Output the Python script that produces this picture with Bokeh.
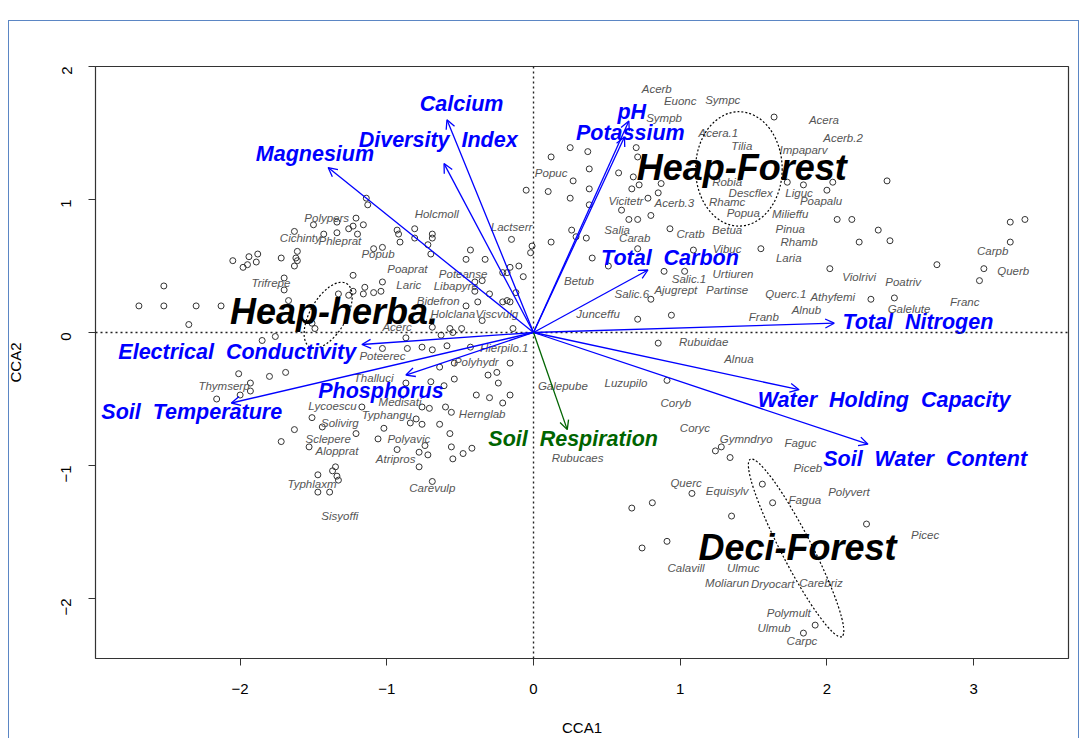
import math
from bokeh.plotting import figure
from bokeh.models import Range1d, Span, Arrow, OpenHead, ColumnDataSource, FixedTicker, InlineStyleSheet
from bokeh.core.properties import value
from bokeh.embed import file_html
from bokeh.resources import INLINE

# ---- site scores (CCA1, CCA2) ----
site_x = [-1.50, -1.34, -1.26, -1.21, -1.63, -1.43, -1.34, -1.94, -1.88, -1.72, -1.61, -1.62, -2.05,
          -1.14, -1.13, -1.16, -1.23, -1.20, -0.93, -0.92, -0.91, -0.81, -0.81, -0.69, -0.69, -0.72,
          -0.70, -1.09, -1.03, -0.43, -0.46, -0.33, -0.15, -0.05, -0.01, -0.02,
          0.25, 0.12, 0.37, 0.27, 0.10, 0.25, 0.38, 0.38, 0.38, 0.26, 0.29, 0.36, 0.12,
          1.64, 0.70, 0.71, 0.58, 0.68, 0.72, 0.67, 0.87, 0.85, 0.78, 0.60, 0.65, 0.71, 0.80,
          0.93, 0.71, 1.09, 1.55, 0.40, 1.73, 1.84, 2.04, 2.00, 2.41, 2.07, 2.17, 2.35, 2.22,
          2.43, 3.25, 3.35, 3.25,
          -1.98, -1.89, -1.95, -1.61, -1.63, -1.70, -1.70, -1.67, -2.52, -2.69, -2.52, -2.30,
          -2.13, -2.35, -1.85, -1.76, -1.51, -1.49, -1.33, -1.26, -1.23, -1.23,
          -2.01, -1.80, -1.69, -1.93, -2.00, -1.93, -2.16, -1.51, -1.44, -1.63, -1.72, -1.53,
          -1.35, -1.37, -1.34, -1.33, -1.47, -1.47, -1.39,
          -0.21, -0.18, -0.16, -0.10, -0.07, -0.35, -0.40, -0.40, -0.30, -0.12, -0.21, -0.18,
          -0.16, -0.38, -0.46, -0.35, -0.14, -0.49, -0.57, -0.55, -0.63, -0.69, -0.87, -1.03,
          -0.86, -0.76, -0.69, -0.59, -0.43, -0.64, -0.54, -0.16, -0.25, -0.31, -0.54, -0.70,
          -0.87, -0.24, -0.61, -0.39, -0.30, -0.16, -0.21, -0.76, -0.71, -0.60, -0.56, -0.84,
          -0.80, -0.76, -0.64, -1.02, -1.21, -1.06, -0.57, -0.74, -0.93,
          -1.03, -1.15, -1.16, -1.09, -1.04, -1.17,
          -0.78, -0.72, -0.78, -0.56, -0.48, -0.42, -0.55, -0.69,
          0.51, 0.89, 1.03, 0.80, 0.71, 0.94, 0.85, 0.91,
          2.02, 2.75, 3.07, 3.04, 2.30, 2.46,
          1.24, 1.28, 1.34, 1.56, 1.63, 1.35, 1.08, 0.81, 0.67, 0.91, 0.74, 2.27, 1.92, 1.84]
site_y = [0.81, 0.83, 0.78, 0.86, 0.76, 0.74, 0.75, 0.57, 0.59, 0.56, 0.61, 0.56, 0.54,
          1.01, 0.96, 0.81, 0.80, 0.74, 0.77, 0.74, 0.68, 0.78, 0.71, 0.74, 0.71, 0.66,
          0.59, 0.63, 0.64, 0.62, 0.55, 0.55, 0.70, 1.07, 0.65, 0.60,
          1.39, 1.32, 1.36, 1.14, 1.06, 1.01, 1.23, 1.08, 0.96, 0.77, 0.72, 0.71, 0.68,
          1.62, 1.39, 1.32, 1.20, 1.17, 1.11, 1.08, 1.12, 1.05, 1.01, 0.92, 0.85, 0.85, 0.88,
          0.78, 0.63, 0.62, 0.63, 0.56, 1.13, 1.11, 1.13, 1.07, 1.14, 0.85, 0.85, 0.77, 0.68,
          0.69, 0.83, 0.85, 0.68,
          0.49, 0.53, 0.51, 0.54, 0.50, 0.41, 0.32, 0.24, 0.35, 0.20, 0.20, 0.20,
          0.20, 0.06, -0.06, -0.03, 0.07, 0.03, 0.29, 0.28, 0.31, 0.43,
          -0.31, -0.33, -0.30, -0.38, -0.47, -0.44, -0.50, -0.64, -0.71, -0.73, -0.82, -0.86,
          -1.01, -1.04, -1.08, -1.11, -1.07, -1.20, -1.20,
          0.45, 0.45, 0.49, 0.50, 0.42, 0.39, 0.38, 0.31, 0.29, 0.30, 0.23, 0.24,
          0.23, 0.23, 0.20, 0.09, 0.03, 0.03, 0.03, 0.00, -0.02, 0.04, -0.04, -0.12,
          -0.12, -0.11, -0.13, -0.10, -0.11, -0.26, -0.23, -0.23, -0.30, -0.32, -0.35, -0.37,
          -0.38, -0.38, -0.40, -0.47, -0.49, -0.47, -0.53, -0.56, -0.57, -0.56, -0.60, -0.68,
          -0.65, -0.69, -0.69, -0.72, -0.76, -0.80, -0.76, -0.85, -0.88,
          0.38, 0.34, 0.29, 0.30, 0.31, -0.56,
          -0.90, -0.92, -1.01, -0.86, -0.91, -0.87, -0.95, -1.12,
          0.50, 0.46, 0.46, 0.25, 0.10, 0.13, -0.08, -0.36,
          0.48, 0.51, 0.48, 0.39, 0.25, 0.26,
          -0.89, -0.86, -0.94, -1.14, -1.28, -1.38, -1.21, -1.28, -1.32, -1.57, -1.62, -1.44, -2.20, -2.26]

# ---- species scores ----
species = ["Acerb", "Euonc", "Sympc", "Sympb", "Acera.1", "Tilia", "Impaparv", "Acera", "Acerb.2",
           "Robia", "Descflex", "Liguc", "Poapalu", "Rhamc", "Popua", "Milieffu", "Vicitetr",
           "Acerb.3", "Salia", "Carab", "Cratb", "Betua", "Pinua", "Vibuc", "Rhamb", "Laria",
           "Carpb", "Querb", "Popuc", "Urtiuren", "Salic.1", "Betub", "Ajugrept", "Partinse",
           "Salic.6", "Querc.1", "Athyfemi", "Violrivi", "Poatriv", "Galelute", "Franc", "Alnub",
           "Junceffu", "Franb", "Rubuidae", "Alnua", "Luzupilo", "Coryb", "Coryc", "Gymndryo",
           "Faguc", "Piceb", "Polyvert", "Fagua", "Querc", "Equisylv", "Picec", "Calavill",
           "Ulmuc", "Moliarun", "Dryocart", "Carebriz", "Polymult", "Ulmub", "Carpc", "Galepube",
           "Rubucaes", "Polypers", "Cichinty", "Phleprat", "Popub", "Holcmoll", "Lactserr",
           "Trifrepe", "Poaprat", "Poteanse", "Laric", "Libapyre", "Bidefron", "Holclana",
           "Viscvulg", "Acerc", "Poteerec", "Hierpilo.1", "Polyhydr", "Thalluci", "Thymserp",
           "Medisati", "Lycoescu", "Typhangu", "Hernglab", "Solivirg", "Sclepere", "Polyavic",
           "Alopprat", "Atripros", "Typhlaxm", "Carevulp", "Sisyoffi"]
species_x = [0.84, 1.00, 1.29, 0.89, 1.26, 1.42, 1.84, 1.98, 2.11,
             1.32, 1.48, 1.81, 1.96, 1.32, 1.43, 1.75, 0.63,
             0.96, 0.57, 0.69, 1.07, 1.32, 1.75, 1.32, 1.81, 1.74,
             3.13, 3.27, 0.12, 1.36, 1.06, 0.31, 0.97, 1.32,
             0.67, 1.72, 2.04, 2.22, 2.52, 2.56, 2.94, 1.86,
             0.44, 1.57, 1.16, 1.40, 0.63, 0.97, 1.10, 1.45,
             1.82, 1.87, 2.15, 1.85, 1.04, 1.32, 2.67, 1.04,
             1.43, 1.32, 1.63, 1.96, 1.74, 1.64, 1.83, 0.20,
             0.30, -1.41, -1.59, -1.32, -1.06, -0.66, -0.15,
             -1.79, -0.86, -0.48, -0.85, -0.53, -0.65, -0.55,
             -0.25, -0.93, -1.03, -0.20, -0.39, -1.09, -2.11,
             -0.91, -1.37, -1.00, -0.35, -1.32, -1.40, -0.85,
             -1.34, -0.94, -1.51, -0.69, -1.32]
species_y = [1.83, 1.74, 1.75, 1.61, 1.50, 1.40, 1.37, 1.60, 1.46,
             1.13, 1.05, 1.05, 0.99, 0.98, 0.90, 0.89, 0.99,
             0.97, 0.77, 0.71, 0.74, 0.77, 0.78, 0.63, 0.68, 0.56,
             0.61, 0.46, 1.20, 0.44, 0.40, 0.39, 0.32, 0.32,
             0.29, 0.29, 0.27, 0.42, 0.38, 0.18, 0.23, 0.17,
             0.14, 0.12, -0.07, -0.20, -0.38, -0.53, -0.72, -0.80,
             -0.83, -1.02, -1.20, -1.26, -1.13, -1.19, -1.52, -1.77,
             -1.77, -1.88, -1.89, -1.88, -2.11, -2.22, -2.32, -0.40,
             -0.94, 0.86, 0.71, 0.69, 0.59, 0.89, 0.79,
             0.37, 0.48, 0.44, 0.36, 0.35, 0.24, 0.14,
             0.14, 0.04, -0.18, -0.12, -0.22, -0.34, -0.40,
             -0.52, -0.55, -0.62, -0.61, -0.68, -0.80, -0.80,
             -0.89, -0.95, -1.14, -1.17, -1.38]

# ---- environmental vectors (biplot scores) ----
env_names = ["Calcium", "Diversity Index", "Magnesium", "pH", "Potassium", "Total Carbon",
             "Total Nitrogen", "Water Holding Capacity", "Soil Water Content",
             "Soil Respiration", "Phosphorus", "Electrical Conductivity", "Soil Temperature"]
env_x = [-0.59, -0.61, -1.40, 0.65, 0.62, 0.78, 2.05, 1.81, 2.28, 0.23, -0.87, -1.17, -2.06]
env_y = [1.60, 1.27, 1.24, 1.59, 1.47, 0.47, 0.07, -0.43, -0.84, -0.73, -0.32, -0.09, -0.53]
env_label_x = [-0.49, -0.65, -1.49, 0.67, 0.66, 0.93, 2.62, 2.39, 2.67, 0.27, -1.04, -2.02, -2.33]
env_label_y = [1.72, 1.45, 1.34, 1.66, 1.50, 0.56, 0.08, -0.51, -0.95, -0.80, -0.44, -0.15, -0.60]

# ---- habitat groups ----
group_names = ["Heap-Forest", "Heap-herba.", "Deci-Forest"]
group_label_x = [1.42, -1.36, 1.80]
group_label_y = [1.24, 0.16, -1.62]
ellipse_x = [1.40, -1.40, 1.79]
ellipse_y = [1.23, 0.13, -1.62]
ellipse_w = [0.59, 0.50, 1.36]
ellipse_h = [0.86, 0.27, 0.23]
ellipse_angle_deg = [0, 60, -62.7]

FONT = "Liberation Sans"
BLUE = "#0000FF"
GREEN = "#006400"

# thin page frame drawn around the chart area
frame_css = InlineStyleSheet(css="""
:host::after {
  content: "";
  position: absolute;
  left: 8px; top: 20px; width: 1071px; height: 718px;
  border: 1.5px solid #5b86c4; border-bottom: none;
  box-sizing: border-box;
  pointer-events: none;
}
""")

p = figure(width=1086, height=738, output_backend="svg", toolbar_location=None,
           x_range=Range1d(-2.986, 3.647), y_range=Range1d(-2.451, 2.0),
           min_border_left=95, min_border_right=18, min_border_top=66, min_border_bottom=80,
           background_fill_color="white", border_fill_color="white",
           stylesheets=[frame_css])
p.grid.visible = False
p.outline_line_color = "#333333"
p.outline_line_width = 1.2

# axes, R style
for ax in (p.xaxis[0], p.yaxis[0]):
    ax.axis_line_color = None
    ax.major_tick_out = 7
    ax.major_tick_in = 0
    ax.minor_tick_out = 0
    ax.minor_tick_in = 0
    ax.major_tick_line_color = "#333333"
    ax.major_label_text_font = FONT
    ax.major_label_text_font_size = "15px"
    ax.major_label_text_color = "black"
    ax.axis_label_text_font = FONT
    ax.axis_label_text_font_size = "15px"
    ax.axis_label_text_font_style = "normal"
    ax.axis_label_text_color = "black"

xt = [-2, -1, 0, 1, 2, 3]
yt = [-2, -1, 0, 1, 2]
fmt = lambda v: ("\u2212" + str(abs(v))) if v < 0 else str(v)
p.xaxis.ticker = FixedTicker(ticks=xt)
p.xaxis.major_label_overrides = {v: fmt(v) for v in xt}
p.yaxis.ticker = FixedTicker(ticks=yt)
p.yaxis.major_label_overrides = {v: fmt(v) for v in yt}
p.yaxis.major_label_orientation = math.pi / 2
p.xaxis.axis_label = "CCA1"
p.yaxis.axis_label = "CCA2"
p.xaxis.major_label_standoff = 18
p.xaxis.axis_label_standoff = 22
p.yaxis.major_label_standoff = 22
p.yaxis.axis_label_standoff = 30

# origin cross-hairs
for dim in ("height", "width"):
    p.add_layout(Span(location=0, dimension=dim, line_color="#222222",
                      line_dash="2 3", line_width=1.4))

# sites
p.scatter(site_x, site_y, marker="circle", size=6, fill_color=None,
          line_color="#333333", line_width=1)

# species names
p.text(species_x, species_y, text=species, text_font=value(FONT), text_font_style="italic",
       text_font_size="11.5px", text_color="#555555", text_align="center",
       text_baseline="middle")

# group ellipses and names
p.ellipse(ellipse_x, ellipse_y, width=ellipse_w, height=ellipse_h,
          angle=[math.radians(a) for a in ellipse_angle_deg],
          fill_color=None, line_color="black", line_dash="2 2", line_width=1.2)
p.text(group_label_x, group_label_y, text=group_names, text_font=value(FONT),
       text_font_style="bold italic", text_font_size="36px", text_color="black",
       text_align="center", text_baseline="middle")

# environmental arrows
colors = [GREEN if n.startswith("Soil Resp") else BLUE for n in env_names]
for col in (BLUE, GREEN):
    idx = [i for i, c in enumerate(colors) if c == col]
    src = ColumnDataSource(dict(x0=[0.0] * len(idx), y0=[0.0] * len(idx),
                                x1=[env_x[i] for i in idx], y1=[env_y[i] for i in idx]))
    p.add_layout(Arrow(end=OpenHead(size=9, line_color=col, line_width=1.3),
                       x_start="x0", y_start="y0", x_end="x1", y_end="y1",
                       source=src, line_color=col, line_width=1.3))

# wide word spacing in the vector names
spaced = [n.replace(" ", "\u00a0\u00a0") for n in env_names]
p.text(env_label_x, env_label_y, text=spaced, text_font=value(FONT),
       text_font_style="bold italic", text_font_size="21.5px", text_color=colors,
       text_align="center", text_baseline="middle")

open("out.html", "w").write(file_html(p, INLINE))
